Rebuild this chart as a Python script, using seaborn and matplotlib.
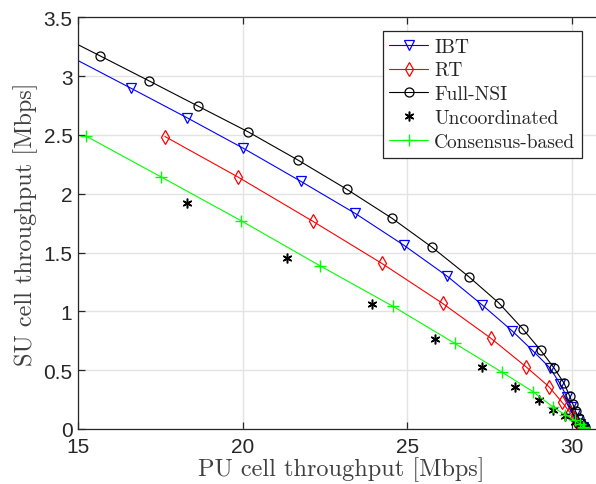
import numpy as np
import pandas as pd
import matplotlib
matplotlib.use('Agg')
import matplotlib.pyplot as plt
import seaborn as sns

# Data
nsi_x = [14.2, 15.68, 17.15, 18.64, 20.17, 21.69, 23.16, 24.53, 25.76, 26.87, 27.78, 28.50,
         29.05, 29.45, 29.76, 29.93, 30.03, 30.11, 30.21, 30.29, 30.39]
nsi_y = [3.38, 3.17, 2.96, 2.745, 2.525, 2.284, 2.038, 1.792, 1.543, 1.294, 1.071, 0.852,
         0.669, 0.521, 0.39, 0.28, 0.21, 0.15, 0.094, 0.05, 0.015]

ibt_x = [14.6, 16.61, 18.30, 20.02, 21.76, 23.42, 24.89, 26.22, 27.28, 28.18, 28.82, 29.33,
         29.65, 29.85, 29.98, 30.08, 30.17, 30.25, 30.33]
ibt_y = [3.19, 2.896, 2.647, 2.386, 2.106, 1.832, 1.563, 1.297, 1.053, 0.835, 0.663, 0.519,
         0.38, 0.27, 0.19, 0.13, 0.08, 0.045, 0.015]

rt_x = [17.64, 19.85, 22.14, 24.23, 26.07, 27.53, 28.60, 29.30, 29.70, 29.93, 30.05, 30.15, 30.25, 30.32]
rt_y = [2.486, 2.143, 1.764, 1.407, 1.068, 0.773, 0.53, 0.36, 0.227, 0.145, 0.09, 0.05, 0.02, 0.005]

unc_x = [18.30, 21.35, 23.92, 25.84, 27.28, 28.26, 28.99, 29.43, 29.78, 30.08, 30.25, 30.39]
unc_y = [1.917, 1.45, 1.059, 0.765, 0.525, 0.355, 0.247, 0.165, 0.11, 0.063, 0.03, 0.015]

cons_x = [15.24, 17.52, 19.96, 22.35, 24.57, 26.44, 27.88, 28.82, 29.43, 29.80, 30.08, 30.24, 30.33, 30.38]
cons_y = [2.49, 2.143, 1.769, 1.387, 1.042, 0.728, 0.482, 0.317, 0.185, 0.12, 0.077, 0.043, 0.02, 0.005]

sns.set_style('white')
plt.rcParams['font.family'] = ['Liberation Sans', 'DejaVu Sans']

fig = plt.figure(figsize=(5.96, 4.85), dpi=100)
ax = fig.add_axes([78 / 596, 55 / 485, 16 * 32.93 / 596, (430.1 - 18.3) / 485])

lw = 0.8
sns.lineplot(x=ibt_x, y=ibt_y, ax=ax, color='#0000ff', lw=lw, marker='v', markersize=7,
             markerfacecolor='none', markeredgecolor='#0000ff', markeredgewidth=0.9,
             estimator=None, sort=False, label='IBT')
sns.lineplot(x=rt_x, y=rt_y, ax=ax, color='#ff0000', lw=lw, marker='d', markersize=7,
             markerfacecolor='none', markeredgecolor='#ff0000', markeredgewidth=0.9,
             estimator=None, sort=False, label='RT')
sns.lineplot(x=nsi_x, y=nsi_y, ax=ax, color='black', lw=lw, marker='o', markersize=6.5,
             markerfacecolor='none', markeredgecolor='black', markeredgewidth=0.9,
             estimator=None, sort=False, label='Full-NSI')
sns.lineplot(x=unc_x, y=unc_y, ax=ax, color='black', ls='none', marker=(6, 2, 0), markersize=7,
             markeredgecolor='black', markeredgewidth=1.1,
             estimator=None, sort=False, label='Uncoordinated')
sns.lineplot(x=cons_x, y=cons_y, ax=ax, color='#00ff00', lw=lw, marker='+', markersize=9,
             markeredgecolor='#00ff00', markeredgewidth=1.0,
             estimator=None, sort=False, label='Consensus-based')

ax.set_xlim(15, 31)
ax.set_ylim(0, 3.5)
ax.set_xticks([15, 20, 25, 30])
ax.set_yticks(np.arange(0, 3.51, 0.5))
ax.set_yticklabels(['0', '0.5', '1', '1.5', '2', '2.5', '3', '3.5'])
ax.grid(True, color='#e3e3e3', lw=1.0)
ax.set_axisbelow(True)
for s in ax.spines.values():
    s.set_color('#262626')
    s.set_linewidth(0.9)
ax.tick_params(direction='in', length=5, width=0.9, color='#262626', labelcolor='#262626',
               labelsize=15, top=True, right=True, bottom=True, left=True)
ax.tick_params(axis='x', pad=6)
ax.tick_params(axis='y', pad=4)

ax.set_xlabel('PU cell throughput [Mbps]', fontfamily='cmr10', fontsize=17.5, color='#404040', labelpad=0)
ax.set_ylabel('SU cell throughput [Mbps]', fontfamily='cmr10', fontsize=17.5, color='#404040', labelpad=4)

leg = ax.legend(loc='upper right', bbox_to_anchor=(582 / 596, 1 - 32 / 485),
                bbox_transform=fig.transFigure, borderaxespad=0, fancybox=False, framealpha=1,
                edgecolor='#262626', prop={'family': 'cmr10', 'size': 14}, handlelength=2.0,
                handletextpad=0.3, labelspacing=0.3, borderpad=0.35)
leg.get_frame().set_linewidth(0.9)

fig.savefig('out.png', dpi=100)
